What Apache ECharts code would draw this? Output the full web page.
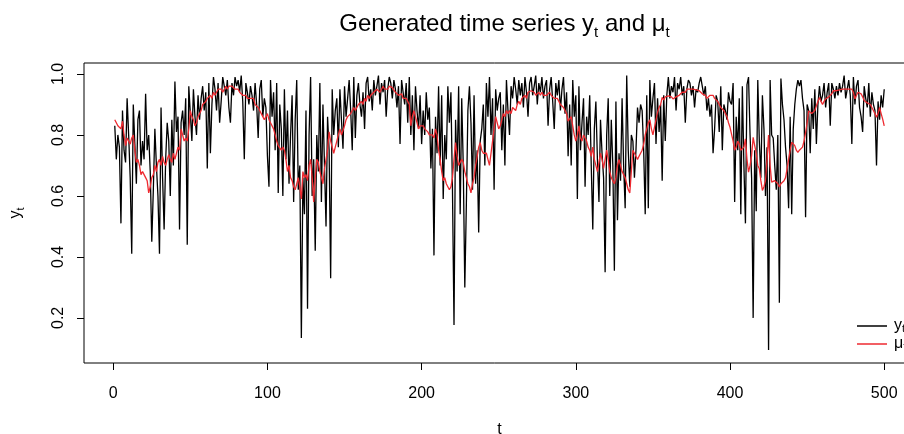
<!DOCTYPE html>
<html>
<head>
<meta charset="utf-8">
<script src="https://cdn.jsdelivr.net/npm/echarts@6/dist/echarts.min.js"></script>
<style>html,body{margin:0;padding:0;background:#fff}#c{width:904px;height:434px}</style>
</head>
<body>
<div id="c"></div>
<script>
// observed series y_t (t = 1..500)
const yt = [
.83,.72,.80,.76,.51,.88,.75,.71,.92,.80,
.66,.41,.90,.77,.64,.85,.88,.70,.78,.72,
.935,.75,.80,.68,.45,.62,.82,.70,.60,.41,
.89,.66,.49,.72,.84,.78,.60,.85,.70,.975,
.81,.86,.49,.84,.88,.80,.92,.44,.96,.87,
.78,.95,.86,.80,.93,.85,.92,.96,.88,.94,
.69,.97,.74,.90,.99,.95,.88,.97,.84,.91,
.99,.96,.93,.98,.89,.84,.97,.93,.99,.96,
.98,.94,.995,.91,.72,.97,.94,.90,.96,.93,
.88,.97,.90,.79,.95,.98,.86,.92,.89,.73,
.63,.98,.86,.94,.75,.97,.61,.90,.82,.60,
.95,.72,.88,.64,.80,.93,.58,.85,.98,.62,
.70,.134,.66,.54,.88,.23,.80,.99,.60,.72,
.42,.80,.68,.97,.58,.90,.70,.50,.86,.75,
.33,.95,.80,.88,.92,.76,.95,.85,.755,.96,
.86,.92,.98,.88,.75,.99,.79,.93,.97,.90,
.86,.94,.82,.97,.99,.91,.95,.88,.98,.93,
.96,.995,.90,.97,.94,.98,.86,.95,.99,.97,
.92,.98,.95,.89,.96,.77,.98,.94,.90,.97,
.84,.99,.80,.93,.75,.96,.88,.82,.93,.77,
.88,.80,.94,.85,.89,.69,.82,.405,.86,.74,
.96,.70,.93,.59,.80,.72,.96,.84,.94,.62,
.177,.85,.68,.96,.54,.92,.70,.30,.57,.88,
.96,.84,.62,.93,.64,.75,.48,.78,.82,.90,
.70,.97,.86,.99,.80,.92,.62,.95,.88,.92,
.94,.75,.90,.70,.98,.88,.80,.96,.92,.99,
.95,.90,.98,.93,.97,.89,.99,.94,.86,.97,
.99,.93,.96,.995,.90,.97,.94,.99,.92,.96,
.98,.83,.95,.99,.91,.82,.97,.93,.98,.88,
.95,.99,.87,.94,.73,.90,.70,.98,.86,.93,
.59,.96,.75,.84,.92,.63,.86,.80,.93,.70,
.49,.82,.91,.72,.58,.85,.74,.66,.35,.80,
.92,.60,.85,.70,.355,.91,.52,.74,.65,.92,
.70,.56,.995,.75,.63,.80,.78,.66,.75,.89,
.84,.90,.88,.75,.54,.93,.56,.98,.86,.92,
.97,.77,.92,.81,.90,.65,.93,.78,.93,.99,
.92,.96,.94,.99,.88,.97,.95,.99,.93,.96,
.84,.95,.98,.97,.93,.96,.89,.95,.94,.97,
.99,.985,.93,.96,.88,.92,.86,.90,.74,.82,
.93,.91,.81,.96,.75,.90,.88,.85,.94,.91,
.90,.97,.58,.86,.75,.92,.54,.96,.70,.51,
.965,.99,.80,.66,.20,.75,.55,.98,.78,.66,
.93,.82,.60,.76,.095,.98,.80,.79,.70,.62,
.80,.25,.985,.90,.85,.76,.70,.56,.86,.54,
.82,.90,.95,.98,.96,.98,.92,.88,.53,.90,
.88,.74,.92,.82,.95,.77,.90,.96,.91,.93,
.97,.89,.94,.97,.83,.97,.95,.92,.96,.93,
.97,.94,.96,.995,.92,.95,.98,.93,.77,.99,
.90,.96,.98,.89,.86,.81,.96,.92,.89,.97,
.86,.94,.90,.88,.70,.91,.85,.93,.89,.95
];
// latent mean mu_t (t = 1..500)
const mu = [
.85,.84,.83,.835,.82,.845,.80,.765,.79,.78,
.77,.79,.80,.75,.71,.72,.70,.67,.68,.67,
.66,.65,.61,.63,.66,.67,.70,.68,.71,.72,
.70,.73,.71,.70,.72,.735,.72,.71,.74,.72,
.74,.76,.75,.82,.80,.78,.79,.78,.82,.88,
.86,.85,.83,.84,.86,.86,.88,.90,.90,.91,
.92,.92,.93,.92,.94,.93,.94,.95,.95,.95,
.94,.95,.96,.95,.96,.955,.96,.955,.95,.945,
.95,.94,.945,.93,.935,.93,.92,.925,.92,.915,
.92,.90,.90,.89,.88,.87,.86,.85,.86,.87,
.85,.84,.84,.82,.80,.78,.765,.77,.75,.76,
.75,.72,.68,.70,.66,.65,.63,.62,.64,.66,
.63,.59,.68,.66,.67,.65,.70,.72,.66,.58,
.66,.72,.71,.68,.66,.64,.69,.72,.75,.81,
.78,.76,.74,.76,.78,.80,.82,.80,.80,.83,
.85,.86,.86,.87,.88,.89,.88,.89,.90,.90,
.91,.90,.92,.91,.93,.92,.93,.935,.94,.94,
.95,.95,.94,.95,.96,.95,.955,.95,.96,.955,
.955,.95,.94,.945,.93,.93,.935,.92,.925,.92,
.92,.90,.83,.86,.88,.86,.84,.82,.83,.835,
.83,.82,.82,.81,.80,.80,.80,.79,.82,.80,
.75,.72,.68,.65,.66,.64,.63,.62,.63,.66,
.72,.775,.73,.70,.70,.72,.71,.68,.66,.64,
.63,.61,.64,.66,.70,.73,.76,.775,.75,.74,
.74,.74,.72,.70,.74,.78,.82,.86,.84,.82,
.83,.85,.87,.86,.88,.87,.88,.87,.89,.89,
.88,.90,.91,.90,.92,.92,.93,.92,.94,.94,
.945,.95,.94,.93,.93,.94,.93,.94,.93,.935,
.93,.93,.94,.93,.925,.92,.925,.92,.91,.90,
.90,.89,.89,.87,.845,.85,.86,.83,.80,.78,
.80,.83,.79,.78,.80,.79,.78,.76,.75,.73,
.76,.72,.70,.68,.71,.74,.72,.69,.72,.75,
.72,.68,.66,.65,.64,.66,.70,.72,.70,.68,
.67,.66,.64,.62,.61,.68,.75,.74,.73,.72,
.73,.74,.75,.77,.80,.82,.84,.85,.82,.80,
.825,.85,.875,.89,.90,.923,.915,.925,.92,.928,
.93,.925,.918,.92,.925,.928,.93,.935,.94,.945,
.94,.95,.945,.95,.955,.95,.95,.948,.945,.945,
.94,.935,.935,.93,.92,.925,.93,.928,.93,.92,
.915,.91,.90,.89,.885,.88,.874,.86,.84,.825,
.82,.78,.75,.76,.78,.77,.75,.748,.76,.787,
.72,.678,.70,.732,.792,.765,.74,.70,.689,.65,
.618,.63,.65,.72,.80,.70,.645,.64,.65,.645,
.64,.629,.64,.645,.65,.66,.689,.72,.75,.776,
.77,.765,.75,.743,.75,.754,.76,.78,.808,.84,
.879,.885,.87,.875,.88,.896,.91,.923,.91,.90,
.91,.918,.92,.925,.928,.935,.945,.94,.945,.95,
.948,.95,.95,.955,.95,.952,.95,.948,.95,.94,
.918,.93,.94,.938,.935,.925,.913,.91,.905,.907,
.90,.89,.88,.87,.858,.87,.89,.87,.852,.83
];
const xTicks = [0, 100, 200, 300, 400, 500];
const yTicks = [0.2, 0.4, 0.6, 0.8, 1.0];
const tIndex = yt.map((_, i) => i + 1);

const FONT = 'Liberation Sans, Arial, Helvetica, sans-serif';
const chart = echarts.init(document.getElementById('c'), null, {renderer: 'canvas'});
const pairs = arr => arr.map((v, i) => [tIndex[i], v]);

chart.setOption({
  animation: false,
  backgroundColor: '#fff',
  textStyle: {fontFamily: FONT},
  title: {
    text: '{a|Generated time series y}{b|t}{a| and μ}{b|t}',
    left: 499.5, top: 3, textAlign: 'center',
    textStyle: {
      fontWeight: 'normal',
      rich: {
        a: {fontFamily: FONT, fontSize: 24, fontWeight: 'normal', color: '#000', lineHeight: 32},
        b: {fontFamily: FONT, fontSize: 15, fontWeight: 'normal', color: '#000', lineHeight: 16, verticalAlign: 'bottom'}
      }
    }
  },
  legend: {
    orient: 'vertical', left: 852, top: 313,
    itemWidth: 30, itemHeight: 1.5, itemGap: 2, icon: 'rect',
    data: ['y_t', 'μ_t'],
    formatter: n => n === 'y_t' ? '{a|y}{b|t}' : '{a|μ}{b|t}',
    textStyle: {
      rich: {
        a: {fontFamily: FONT, fontSize: 16, color: '#000', padding: [0, 0, 0, 2], lineHeight: 16},
        b: {fontFamily: FONT, fontSize: 11, color: '#000', lineHeight: 11, verticalAlign: 'bottom'}
      }
    }
  },
  grid: {left: 84, right: -11, top: 63, bottom: 71, show: true, borderColor: '#000', borderWidth: 1, containLabel: false, outerBoundsMode: 'none'},
  xAxis: {
    type: 'value', min: -18.96, max: 519.96,
    name: 't', nameLocation: 'middle', nameGap: 59,
    nameTextStyle: {fontFamily: FONT, fontSize: 16, color: '#000'},
    axisLine: {show: false, onZero: false},
    axisTick: {show: true, length: 7, customValues: xTicks, lineStyle: {color: '#000'}},
    axisLabel: {customValues: xTicks, margin: 23, fontFamily: FONT, fontSize: 16, color: '#000'},
    splitLine: {show: false}
  },
  yAxis: {
    type: 'value', min: 0.052, max: 1.036,
    name: '{a|y}{b|t}', nameLocation: 'middle', nameGap: 58, nameRotate: 90,
    nameTextStyle: {
      rich: {
        a: {fontFamily: FONT, fontSize: 16, color: '#000', lineHeight: 20},
        b: {fontFamily: FONT, fontSize: 11, color: '#000', lineHeight: 11, verticalAlign: 'bottom'}
      }
    },
    axisLine: {show: false, onZero: false},
    axisTick: {show: true, length: 7, customValues: yTicks, lineStyle: {color: '#000'}},
    axisLabel: {customValues: yTicks, rotate: 90, margin: 17, fontFamily: FONT, fontSize: 16, color: '#000',
      formatter: v => v.toFixed(1)},
    splitLine: {show: false}
  },
  series: [
    {name: 'y_t', type: 'line', data: pairs(yt), symbol: 'none', lineStyle: {color: '#000', width: 1.3}, itemStyle: {color: '#000'}},
    {name: 'μ_t', type: 'line', data: pairs(mu), symbol: 'none', lineStyle: {color: '#EE2A30', width: 1.3}, itemStyle: {color: '#EE2A30'}}
  ]
});
</script>
</body>
</html>
